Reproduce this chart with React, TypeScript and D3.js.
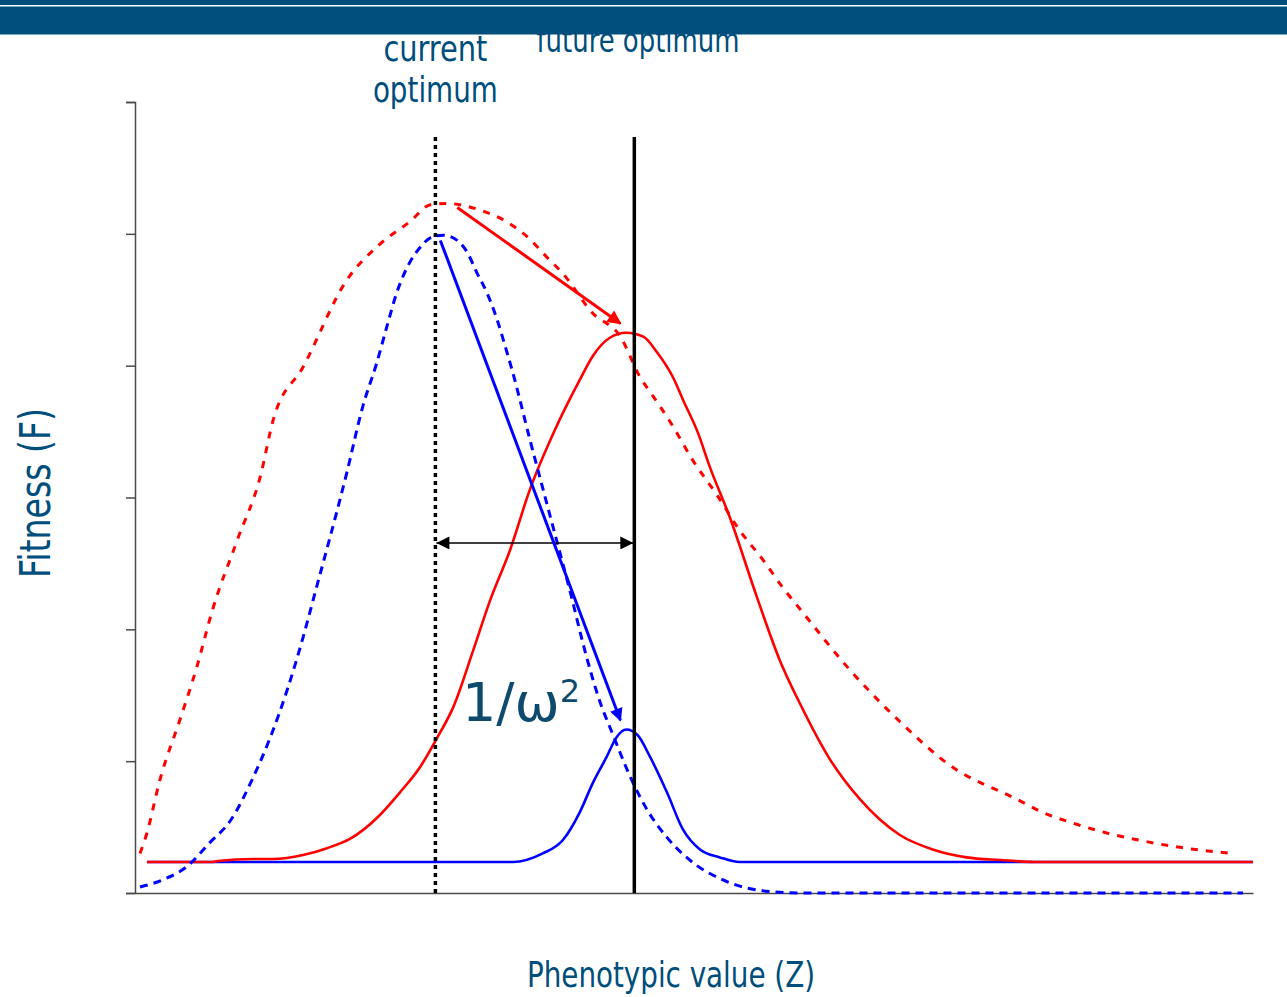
import React, { useEffect, useRef } from "react";
import * as d3 from "d3";

// Phenotypic value (Z) sample positions and fitness (F) for each curve
const redNowZ = [-2.97, -2.9, -2.77, -2.57, -2.4, -2.24, -1.99, -1.76, -1.63, -1.33, -0.89, -0.56, -0.26, -0.05, 0.12, 0.45, 0.72, 0.92, 1.15, 1.28, 1.58, 1.86, 2.06, 2.16, 2.38, 2.59, 2.83, 3.06, 3.29, 3.51, 3.67, 4.17, 4.67, 5.17, 5.85, 6.11, 6.41, 6.75, 7.08, 7.45, 8.02];
const redNowF = [0.3, 0.455, 0.857, 1.31, 1.71, 2.15, 2.68, 3.16, 3.59, 3.99, 4.65, 4.92, 5.09, 5.22, 5.23, 5.18, 5.09, 4.98, 4.8, 4.7, 4.4, 4.22, 3.91, 3.8, 3.55, 3.28, 3.02, 2.75, 2.53, 2.3, 2.15, 1.69, 1.3, 0.97, 0.71, 0.61, 0.53, 0.455, 0.4, 0.35, 0.3];

const blueNowZ = [-2.97, -2.74, -2.5, -2.27, -2.06, -1.83, -1.66, -1.49, -1.33, -1.23, -0.89, -0.73, -0.59, -0.49, -0.39, -0.26, -0.15, -0.05, 0.08, 0.22, 0.32, 0.42, 0.52, 0.62, 0.72, 0.77, 0.95, 1.15, 1.35, 1.52, 1.65, 1.78, 1.96, 2.13, 2.33, 2.59, 2.86, 3.26, 3.66, 8.12];
const blueNowF = [0.046, 0.1, 0.2, 0.38, 0.55, 0.88, 1.18, 1.54, 1.94, 2.22, 3.19, 3.69, 4.02, 4.29, 4.55, 4.78, 4.9, 4.97, 4.99, 4.95, 4.86, 4.7, 4.55, 4.35, 4.1, 3.97, 3.44, 2.87, 2.3, 1.79, 1.46, 1.21, 0.88, 0.63, 0.42, 0.23, 0.11, 0.02, 0, 0];

const redNextZ = [-2.9, -2.24, -2.19, -1.83, -1.63, -1.33, -1.09, -0.86, -0.56, -0.36, -0.15, 0.02, 0.18, 0.38, 0.55, 0.75, 0.95, 1.2, 1.45, 1.58, 1.75, 1.92, 2.09, 2.23, 2.39, 2.49, 2.64, 2.76, 2.96, 3.23, 3.46, 3.67, 3.97, 4.27, 4.67, 5.0, 5.34, 5.68, 6.08, 8.22];
const redNextF = [0.235, 0.235, 0.243, 0.258, 0.258, 0.288, 0.34, 0.41, 0.59, 0.76, 0.96, 1.18, 1.41, 1.84, 2.22, 2.6, 3.06, 3.51, 3.89, 4.07, 4.21, 4.25, 4.22, 4.1, 3.91, 3.74, 3.49, 3.23, 2.85, 2.25, 1.77, 1.43, 1.01, 0.71, 0.44, 0.33, 0.27, 0.25, 0.235, 0.235];

const blueNextZ = [-2.9, 0.78, 1.08, 1.28, 1.45, 1.58, 1.72, 1.82, 1.92, 2.03, 2.16, 2.33, 2.49, 2.66, 2.86, 3.06, 8.22];
const blueNextF = [0.235, 0.235, 0.3, 0.4, 0.61, 0.83, 1.03, 1.18, 1.24, 1.2, 1.03, 0.76, 0.48, 0.33, 0.27, 0.235, 0.235];

// Optima on the Z axis and the height of their marker lines
const currentOptimum = 0;
const futureOptimum = 2;
const optimumLineTop = 5.735;
const shiftArrowF = 2.655;

// Shift arrows: [Z, F] start and end
const redArrow = [[0.22, 5.2], [1.86, 4.32]];
const blueArrow = [[0.05, 4.95], [1.86, 1.31]];

const fitnessTicks = [0, 1, 2, 3, 4, 5, 6];

const W = 1287;
const H = 997;
const navy = "#004e7c";
const narrow = "'Liberation Sans Narrow', 'DejaVu Sans Condensed', 'Arial Narrow', sans-serif";

const x = d3.scaleLinear().domain([-3.02, 8.22]).range([135, 1253]);
const y = d3.scaleLinear().domain([0, 6]).range([893, 102]);

const pairs = (zs: number[], fs: number[]) => zs.map((z, i) => [z, fs[i]] as [number, number]);
const line = d3
  .line<[number, number]>()
  .x((d) => x(d[0]))
  .y((d) => y(d[1]))
  .curve(d3.curveMonotoneX);
const straight = d3
  .line<[number, number]>()
  .x((d) => x(d[0]))
  .y((d) => y(d[1]));

export default function App() {
  const yAxisRef = useRef<SVGGElement>(null);
  const xAxisRef = useRef<SVGGElement>(null);

  useEffect(() => {
    if (yAxisRef.current) {
      const g = d3.select(yAxisRef.current);
      g.call(
        d3
          .axisLeft(y)
          .tickValues(fitnessTicks)
          .tickSize(9)
          .tickSizeOuter(9)
          .tickFormat(() => "")
      );
      g.selectAll("path,line").attr("stroke", "#4a4a4a").attr("stroke-width", 1.5);
    }
    if (xAxisRef.current) {
      const g = d3.select(xAxisRef.current);
      g.call(d3.axisBottom(x).tickValues([]).tickSizeOuter(0));
      g.selectAll("path").attr("stroke", "#4a4a4a").attr("stroke-width", 1.5);
    }
  }, []);

  return (
    <svg
      width={W}
      height={H}
      style={{ position: "absolute", left: 0, top: 0, display: "block", background: "#fff" }}
    >
      <defs>
        <marker id="headRed" viewBox="0 0 10 10" refX="9" refY="5" markerWidth="17" markerHeight="14" markerUnits="userSpaceOnUse" orient="auto">
          <path d="M0,0 L10,5 L0,10 z" fill="#ff0000" />
        </marker>
        <marker id="headBlue" viewBox="0 0 10 10" refX="9" refY="5" markerWidth="17" markerHeight="13" markerUnits="userSpaceOnUse" orient="auto">
          <path d="M0,0 L10,5 L0,10 z" fill="#0000ff" />
        </marker>
        <marker id="headBlack" viewBox="0 0 10 10" refX="10" refY="5" markerWidth="15" markerHeight="13" markerUnits="userSpaceOnUse" orient="auto-start-reverse">
          <path d="M0,0 L10,5 L0,10 z" fill="#000" />
        </marker>
      </defs>

      {/* axes */}
      <g ref={yAxisRef} transform={`translate(${x(-3.02)},0)`} />
      <g ref={xAxisRef} transform={`translate(0,${y(0)})`} />

      {/* fitness curves */}
      <path d={line(pairs(blueNextZ, blueNextF)) || ""} fill="none" stroke="#0000ff" strokeWidth={2.6} />
      <path d={line(pairs(redNextZ, redNextF)) || ""} fill="none" stroke="#ff0000" strokeWidth={2.6} />
      <path d={line(pairs(redNowZ, redNowF)) || ""} fill="none" stroke="#ff0000" strokeWidth={3} strokeDasharray="7,8" />
      <path d={line(pairs(blueNowZ, blueNowF)) || ""} fill="none" stroke="#0000ff" strokeWidth={3} strokeDasharray="8,6" />

      {/* optimum markers */}
      <line x1={x(currentOptimum)} x2={x(currentOptimum)} y1={y(optimumLineTop)} y2={y(0)} stroke="#000" strokeWidth={3.5} strokeDasharray="4,4" />
      <line x1={x(futureOptimum)} x2={x(futureOptimum)} y1={y(optimumLineTop)} y2={y(0)} stroke="#000" strokeWidth={3.5} />

      {/* distance between optima */}
      <line
        x1={x(currentOptimum) + 1}
        x2={x(futureOptimum) - 1}
        y1={y(shiftArrowF)}
        y2={y(shiftArrowF)}
        stroke="#000"
        strokeWidth={1.6}
        markerStart="url(#headBlack)"
        markerEnd="url(#headBlack)"
      />

      {/* shift arrows */}
      <path d={straight(redArrow as [number, number][]) || ""} stroke="#ff0000" strokeWidth={3} fill="none" markerEnd="url(#headRed)" />
      <path d={straight(blueArrow as [number, number][]) || ""} stroke="#0000ff" strokeWidth={3} fill="none" markerEnd="url(#headBlue)" />

      {/* labels */}
      <text x={x(currentOptimum)} y={61} textAnchor="middle" fill={navy} fontFamily={narrow} fontSize={36} textLength={104} lengthAdjust="spacingAndGlyphs">current</text>
      <text x={x(currentOptimum)} y={102} textAnchor="middle" fill={navy} fontFamily={narrow} fontSize={36} textLength={125} lengthAdjust="spacingAndGlyphs">optimum</text>
      <text x={638} y={52} textAnchor="middle" fill={navy} fontFamily={narrow} fontSize={34} textLength={203} lengthAdjust="spacingAndGlyphs">future optimum</text>

      <text x={462} y={721} fill="#0d4a6e" fontFamily="'DejaVu Sans', sans-serif" fontSize={54}>
        1/ω<tspan fontSize={32} dy={-19}>2</tspan>
      </text>

      <text
        transform="translate(50,493) rotate(-90)"
        textAnchor="middle"
        fill={navy}
        fontFamily={narrow}
        fontSize={42}
        textLength={170}
        lengthAdjust="spacingAndGlyphs"
      >
        Fitness (F)
      </text>
      <text x={671} y={987} textAnchor="middle" fill={navy} fontFamily={narrow} fontSize={36} textLength={288} lengthAdjust="spacingAndGlyphs">
        Phenotypic value (Z)
      </text>

      {/* title band */}
      <rect x={0} y={0} width={W} height={34.5} fill={navy} />
      <rect x={0} y={5} width={W} height={1.5} fill="#ffffff" />
    </svg>
  );
}
